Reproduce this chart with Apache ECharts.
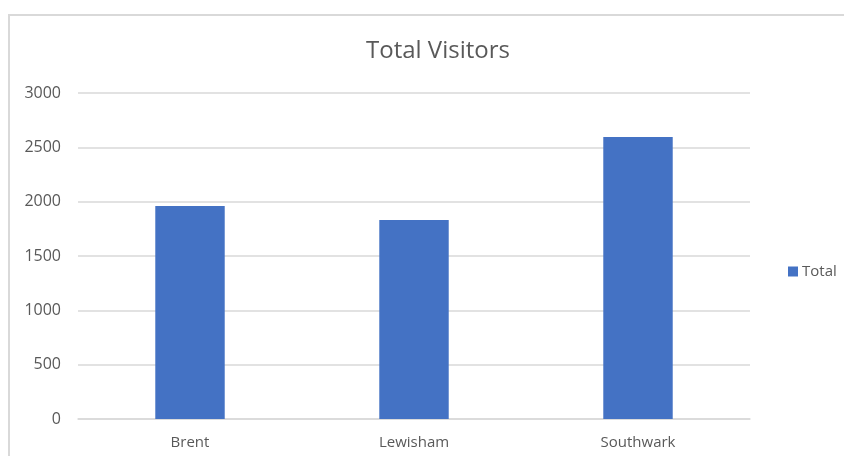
<!DOCTYPE html>
<html>
<head>
<meta charset="utf-8">
<script src="https://cdn.jsdelivr.net/npm/echarts@6/dist/echarts.min.js"></script>
<style>
  html, body { margin: 0; padding: 0; background: #fff; }
  #chart_visitors { width: 844px; height: 456px; }
</style>
</head>
<body>
<div id="chart_visitors"></div>
<script>
const categories = ["Brent", "Lewisham", "Southwark"];
const totalVisitors = [1960, 1832, 2594];
const yTicks = [0, 500, 1000, 1500, 2000, 2500, 3000];

const chartInstance = echarts.init(document.getElementById("chart_visitors"));
const fontFam = "'Open Sans', sans-serif";
const option = {
  backgroundColor: "#fff",
  animation: false,
  graphic: [
    {
      type: "rect",
      shape: { x: 9, y: 15, width: 900, height: 500 },
      style: { fill: "none", stroke: "#d9d9d9", lineWidth: 2 },
    },
  ],
  title: {
    text: "Total Visitors",
    left: 433,
    textAlign: "center",
    top: 34,
    textStyle: {
      color: "#595959",
      fontSize: 24,
      fontWeight: "normal",
      fontFamily: fontFam,
    },
  },
  legend: {
    left: 783,
    top: 259,
    orient: "vertical",
    itemWidth: 10,
    itemHeight: 10,
    itemGap: 5,
    icon: "rect",
    textStyle: { color: "#595959", fontSize: 15, fontFamily: fontFam, padding: [0, 0, 0, -1] },
  },
  grid: {
    left: 78,
    right: 94,
    top: 93,
    bottom: 37,
    containLabel: false,
  },
  xAxis: {
    type: "category",
    data: categories,
    axisTick: { show: false },
    axisLine: { lineStyle: { color: "#d9d9d9", width: 1.5 } },
    axisLabel: { color: "#595959", fontSize: 15, margin: 16, fontFamily: fontFam },
  },
  yAxis: {
    type: "value",
    min: yTicks[0],
    max: yTicks[yTicks.length - 1],
    interval: 500,
    axisLine: { show: false },
    axisTick: { show: false },
    splitLine: { lineStyle: { color: "#d9d9d9", width: 1.5 } },
    axisLabel: {
      color: "#595959",
      fontSize: 16,
      margin: 17,
      fontFamily: fontFam,
      formatter: (v) => String(v),
    },
  },
  series: [
    {
      name: "Total",
      type: "bar",
      barWidth: "31%",
      data: totalVisitors,
      itemStyle: { color: "#4472C4" },
    },
  ],
};
chartInstance.setOption(option);
</script>
</body>
</html>
